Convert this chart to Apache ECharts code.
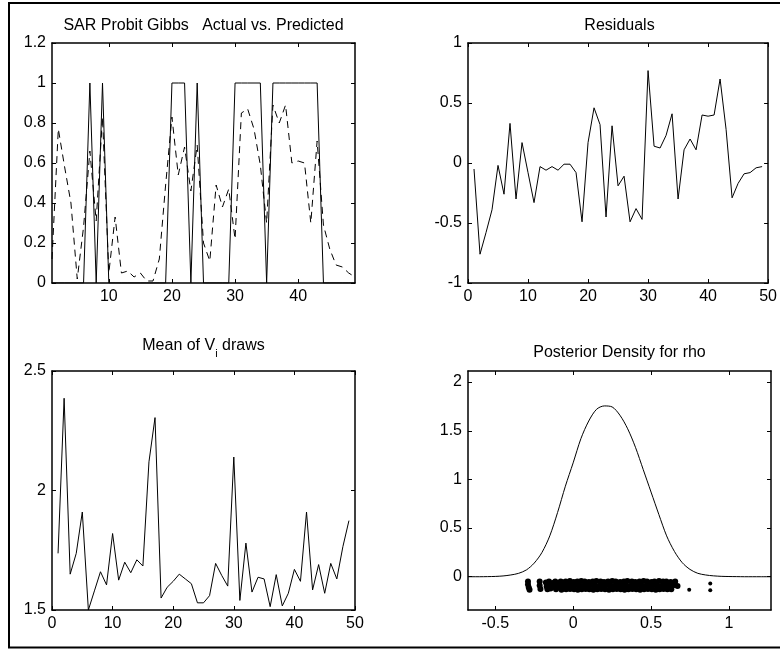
<!DOCTYPE html>
<html><head><meta charset="utf-8">
<script src="https://cdn.jsdelivr.net/npm/echarts@6/dist/echarts.min.js"></script>
<style>html,body{margin:0;padding:0;background:#fff}#c{width:780px;height:650px}</style>
</head><body><div id="c"></div><script>
const obs = [1,2,3,4,5,6,7,8,9,10,11,12,13,14,15,16,17,18,19,20,21,22,23,24,25,26,27,28,29,30,31,32,33,34,35,36,37,38,39,40,41,42,43,44,45,46,47,48,49];
const actual = [0,0,0,0,0,0,1,0,1,0,0,0,0,0,0,0,0,0,0,1,1,1,0,1,0,0,0,0,0,1,1,1,1,1,0,1,1,1,1,1,1,1,1,0,0,0,0,0,0];
const predicted = [0.12,0.77,0.58,0.40,0.02,0.28,0.66,0.31,0.83,0.05,0.33,0.05,0.06,0.03,0.05,0.01,0.01,0.12,0.49,0.83,0.54,0.68,0.46,0.69,0.20,0.11,0.49,0.38,0.47,0.22,0.85,0.87,0.77,0.59,0.30,0.89,0.80,0.89,0.60,0.61,0.60,0.30,0.71,0.29,0.17,0.09,0.08,0.05,0.03];
const residuals = [-0.05,-0.76,-0.58,-0.39,-0.02,-0.26,0.33,-0.30,0.17,-0.08,-0.33,-0.03,-0.06,-0.03,-0.06,-0.01,-0.01,-0.08,-0.49,0.17,0.46,0.32,-0.45,0.31,-0.19,-0.11,-0.49,-0.38,-0.47,0.77,0.14,0.125,0.23,0.41,-0.30,0.11,0.20,0.11,0.40,0.39,0.40,0.70,0.28,-0.29,-0.17,-0.09,-0.08,-0.04,-0.03];
const meanV = [1.737,2.386,1.65,1.737,1.91,1.50,1.58,1.66,1.605,1.82,1.625,1.70,1.656,1.71,1.684,2.12,2.305,1.55,1.595,1.62,1.65,1.63,1.61,1.53,1.53,1.56,1.695,1.645,1.60,2.14,1.54,1.78,1.575,1.637,1.63,1.514,1.648,1.517,1.57,1.67,1.62,1.91,1.584,1.69,1.57,1.695,1.63,1.765,1.874];
const rhoGrid = [-0.675,-0.65,-0.6,-0.55,-0.5,-0.45,-0.4,-0.35,-0.3,-0.25,-0.2,-0.15,-0.1,-0.05,0,0.05,0.1,0.15,0.2,0.25,0.3,0.35,0.4,0.45,0.5,0.55,0.6,0.65,0.7,0.75,0.8,0.85,0.9,0.95,1.0,1.05,1.1,1.2,1.27];
const rhoDensity = [0,0,0,0.001,0.003,0.008,0.018,0.035,0.07,0.14,0.25,0.42,0.66,0.93,1.17,1.42,1.60,1.72,1.755,1.745,1.66,1.52,1.33,1.10,0.87,0.64,0.42,0.26,0.145,0.075,0.035,0.018,0.009,0.004,0.002,0.001,0,0,0];
const rhoDraws = [
[-0.29,-0.05],[-0.29,-0.08],[-0.285,-0.11],[-0.28,-0.135],
[-0.215,-0.05],[-0.215,-0.09],[-0.21,-0.125],
[-0.175,-0.06],[-0.17,-0.10],[-0.165,-0.13],[-0.155,-0.05],[-0.15,-0.085],[-0.145,-0.12],
[-0.13,-0.065],[-0.125,-0.10],[-0.115,-0.05],[-0.11,-0.13],[-0.10,-0.08],[-0.09,-0.11],[-0.08,-0.05],[-0.075,-0.135],[-0.07,-0.09],[-0.06,-0.06],[-0.055,-0.12],
[-0.048,-0.05],[-0.021,-0.045],[0.004,-0.055],[0.027,-0.05],[0.052,-0.045],[0.074,-0.05],[0.101,-0.055],[0.126,-0.05],[0.149,-0.045],[0.176,-0.05],[0.198,-0.055],[0.224,-0.05],[0.251,-0.045],[0.273,-0.05],[0.302,-0.055],[0.326,-0.05],[0.348,-0.045],[0.377,-0.05],[0.399,-0.055],[0.426,-0.05],[0.452,-0.045],[0.474,-0.05],[0.503,-0.055],[0.522,-0.05],[0.551,-0.045],[0.577,-0.05],[0.598,-0.05],[0.626,-0.055],[0.655,-0.05],
[-0.035,-0.09],[-0.01,-0.09],[0.015,-0.085],[0.04,-0.09],[0.063,-0.095],[0.088,-0.09],[0.112,-0.085],[0.138,-0.09],[0.163,-0.095],[0.187,-0.09],[0.212,-0.085],[0.236,-0.09],[0.262,-0.095],[0.288,-0.09],[0.313,-0.085],[0.337,-0.09],[0.362,-0.095],[0.388,-0.09],[0.412,-0.085],[0.437,-0.09],[0.463,-0.095],[0.488,-0.09],[0.512,-0.085],[0.537,-0.09],[0.562,-0.095],[0.588,-0.09],[0.612,-0.085],[0.64,-0.09],[0.67,-0.095],
[-0.045,-0.13],[-0.02,-0.125],[0.006,-0.13],[0.03,-0.135],[0.055,-0.13],[0.08,-0.125],[0.104,-0.13],[0.13,-0.135],[0.155,-0.13],[0.18,-0.125],[0.205,-0.13],[0.23,-0.135],[0.255,-0.13],[0.28,-0.125],[0.305,-0.13],[0.33,-0.135],[0.355,-0.13],[0.38,-0.125],[0.405,-0.13],[0.43,-0.135],[0.455,-0.13],[0.48,-0.125],[0.505,-0.13],[0.53,-0.135],[0.555,-0.13],[0.58,-0.125],[0.605,-0.13],[0.63,-0.13],
[0.745,-0.135],[0.88,-0.07],[0.88,-0.14]
];
const ticksObs = [10,20,30,40];
const ticks50 = [0,10,20,30,40,50];
const ticksP1y = [0,0.2,0.4,0.6,0.8,1,1.2];
const ticksResY = [-1,-0.5,0,0.5,1];
const ticksMeanY = [1.5,2,2.5];
const ticksRhoX = [-0.5,0,0.5,1];
const ticksRhoY = [0,0.5,1,1.5,2];
const titles = ['SAR Probit Gibbs   Actual vs. Predicted','Residuals','Posterior Density for rho'];

const FONT = 'Liberation Sans, Arial, Helvetica, sans-serif';
function ax(kind, g, min, max, ticks, pos, labels) {
  return {
    type: 'value', gridIndex: g, min: min, max: max, position: pos,
    axisLine: {show: true, onZero: false, lineStyle: {color: '#000', width: 1.5}},
    axisTick: {show: true, inside: true, length: 4, customValues: ticks, lineStyle: {color: '#000', width: 1}},
    axisLabel: {show: labels, customValues: ticks, color: '#000', fontSize: 16, fontFamily: FONT,
      margin: 6, padding: kind === 'y' ? [4, 0, 0, 0] : 0},
    splitLine: {show: false}
  };
}
const xAxes = [], yAxes = [];
const spec = [
  [1, 49, ticksObs, 0, 1.2, ticksP1y],
  [0, 50, ticks50, -1, 1, ticksResY],
  [0, 50, ticks50, 1.5, 2.5, ticksMeanY],
  [-0.675, 1.27, ticksRhoX, -0.342, 2.114, ticksRhoY]
];
spec.forEach((s, g) => {
  xAxes.push(ax('x', g, s[0], s[1], s[2], 'bottom', true));
  xAxes.push(ax('x', g, s[0], s[1], s[2], 'top', false));
  yAxes.push(ax('y', g, s[3], s[4], s[5], 'left', true));
  yAxes.push(ax('y', g, s[3], s[4], s[5], 'right', false));
});
const pairs = (xs, ys) => xs.map((x, i) => [x, ys[i]]);
const lineBase = {type: 'line', showSymbol: false, symbol: 'none', animation: false, smooth: false};
const ts = {fill: '#000', fontSize: 16, fontFamily: FONT, align: 'center', verticalAlign: 'top'};

const option = {
  animation: false,
  backgroundColor: '#fff',
  grid: [
    {left: 52, top: 43, width: 303, height: 240},
    {left: 468, top: 43, width: 303, height: 240},
    {left: 52, top: 371, width: 303, height: 239},
    {left: 468, top: 371, width: 303, height: 239}
  ],
  xAxis: xAxes,
  yAxis: yAxes,
  series: [
    Object.assign({}, lineBase, {xAxisIndex: 0, yAxisIndex: 0, data: pairs(obs, actual), lineStyle: {color: '#000', width: 1}}),
    Object.assign({}, lineBase, {xAxisIndex: 0, yAxisIndex: 0, data: pairs(obs, predicted), lineStyle: {color: '#000', width: 1, type: [7, 5]}}),
    Object.assign({}, lineBase, {xAxisIndex: 2, yAxisIndex: 2, data: pairs(obs, residuals), lineStyle: {color: '#000', width: 1}}),
    Object.assign({}, lineBase, {xAxisIndex: 4, yAxisIndex: 4, data: pairs(obs, meanV), lineStyle: {color: '#000', width: 1}}),
    Object.assign({}, lineBase, {xAxisIndex: 6, yAxisIndex: 6, data: pairs(rhoGrid, rhoDensity), smooth: 0.3, lineStyle: {color: '#000', width: 1}}),
    {type: 'scatter', xAxisIndex: 6, yAxisIndex: 6, data: rhoDraws, symbol: 'circle',
      symbolSize: function (v) { return v[0] > 0.7 ? 4 : 6; },
      itemStyle: {color: '#000', opacity: 1}, animation: false}
  ],
  graphic: [
    {type: 'polyline', shape: {points: [[780, 3], [9, 3], [9, 647.5], [780, 647.5]]}, style: {stroke: '#000', lineWidth: 2, fill: null}, silent: true},
    {type: 'text', x: 203.5, y: 18, style: Object.assign({text: titles[0]}, ts)},
    {type: 'text', x: 619.5, y: 18, style: Object.assign({text: titles[1]}, ts)},
    {type: 'text', x: 619.5, y: 345, style: Object.assign({text: titles[2]}, ts)},
    {type: 'text', x: 203.5, y: 338, style: {
      text: '{n|Mean of V}{s|i}{n| draws}', align: 'center', verticalAlign: 'top', fill: '#000', fontFamily: FONT,
      rich: {
        n: {fontSize: 16, fontFamily: FONT, fill: '#000', verticalAlign: 'top'},
        s: {fontSize: 11, fontFamily: FONT, fill: '#000', verticalAlign: 'top', padding: [10, 0, 0, 0]}
      }
    }}
  ]
};
const chart = echarts.init(document.getElementById('c'), null, {renderer: 'canvas'});
chart.setOption(option);
</script></body></html>
